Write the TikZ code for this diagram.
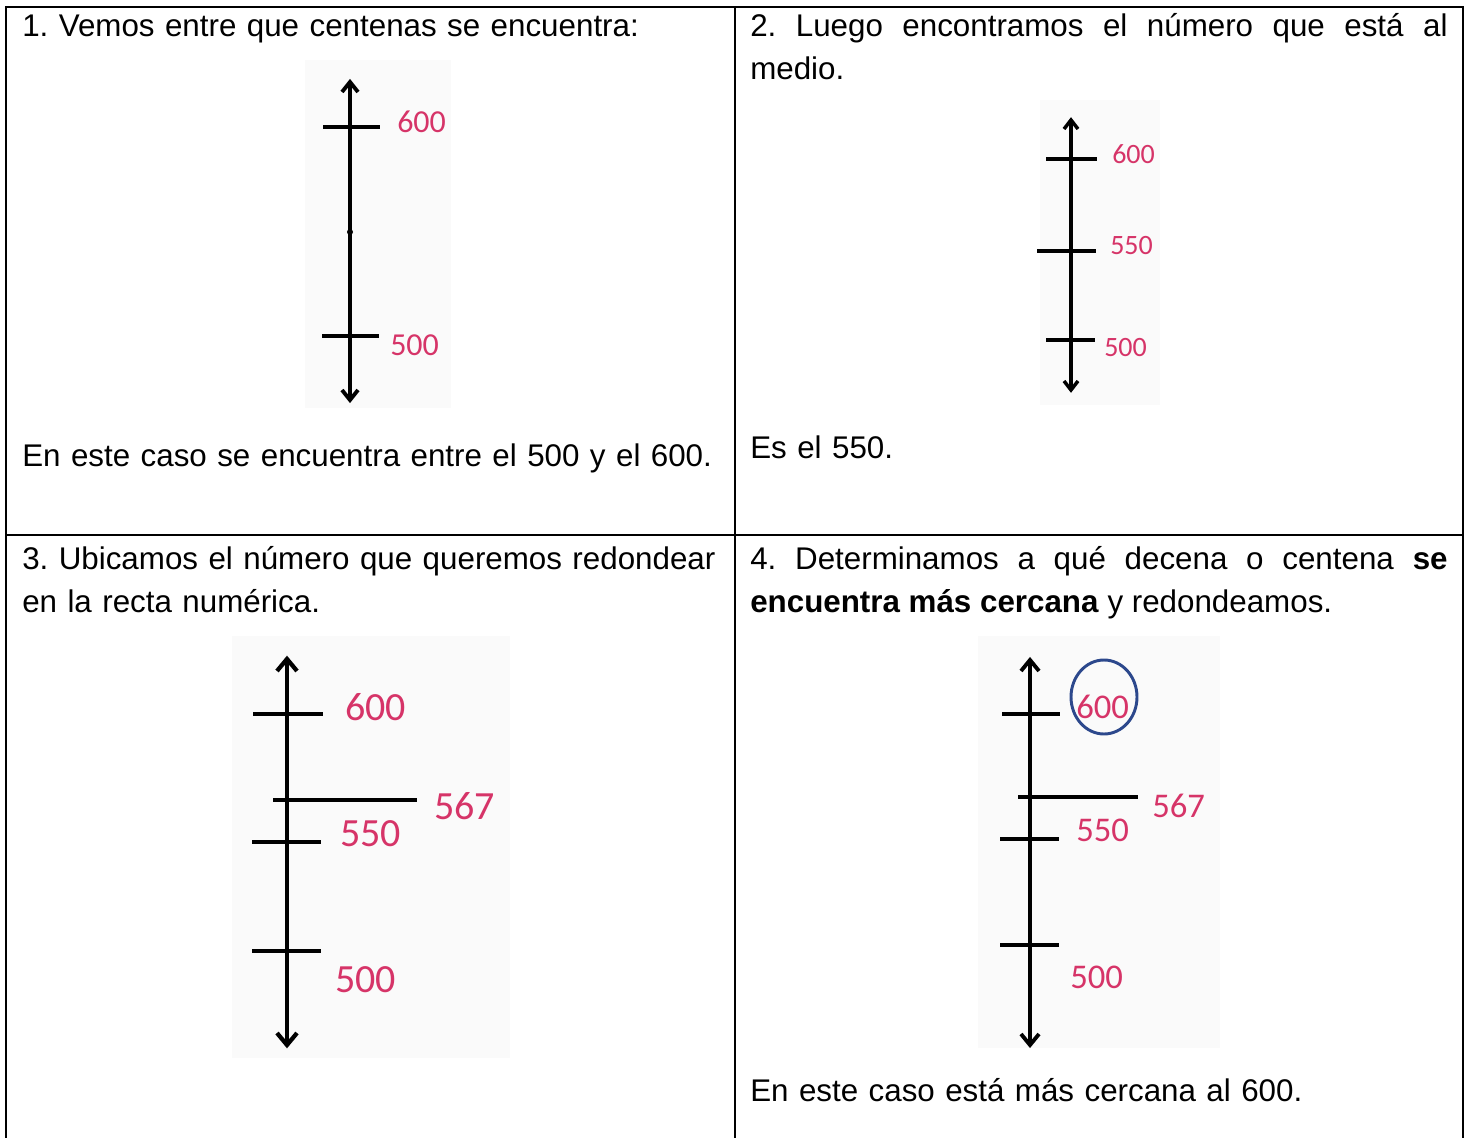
\documentclass[tikz,border=0pt]{standalone}
\usepackage{fontspec}
\setmainfont{Liberation Sans}
\newfontfamily\numfont{Carlito}
\usepackage{xcolor}
\definecolor{numpink}{RGB}{214,52,104}
\definecolor{ringblue}{RGB}{44,72,140}
\definecolor{imgbg}{RGB}{250,250,250}
\frenchspacing
\hyphenpenalty=10000

\tikzset{
  cell/.style={anchor=base west, inner sep=0pt, text width=523pt,
    font=\fontsize{23.5}{32.25}\selectfont},
  leftcell/.style={cell, text width=540pt, align=left},
  numlabel/.style={anchor=west, inner sep=0pt, text=numpink},
  grid/.style={line width=1.8pt}
}

\begin{document}
\begin{tikzpicture}[x=0.75pt,y=0.75pt,yscale=-1,xscale=1]
\useasboundingbox (0,0) rectangle (1468,1138);

%Table frame
\draw [grid]  (6,1138) -- (6,7) -- (1463,7) -- (1463,1138) ;
\draw [grid]  (735,7) -- (735,1138) ;
\draw [grid]  (6,535) -- (1463,535) ;

%Picture backgrounds
\fill [imgbg] (305,60) rectangle (451,408) ;
\fill [imgbg] (1040,100) rectangle (1160,405) ;
\fill [imgbg] (232,636) rectangle (510,1058) ;
\fill [imgbg] (978,636) rectangle (1220,1048) ;

%Straight Lines: number line 1
\draw [line width=2.9pt]  (350,82) -- (350,400) ;
\draw [shift={(350,82)}, rotate=90] [line width=2.9pt]  (10,-8) -- (0,0) -- (10,8) ;
\draw [shift={(350,400)}, rotate=270] [line width=2.9pt]  (10,-8) -- (0,0) -- (10,8) ;
\draw [line width=2.7pt]  (323,127) -- (380,127) ;
\draw [line width=2.7pt]  (322,336) -- (379,336) ;
\fill (350,232) circle [radius=3] ;

%Straight Lines: number line 2
\draw [line width=2.6pt]  (1071,120) -- (1071,390) ;
\draw [shift={(1071,120)}, rotate=90] [line width=2.6pt]  (9,-7) -- (0,0) -- (9,7) ;
\draw [shift={(1071,390)}, rotate=270] [line width=2.6pt]  (9,-7) -- (0,0) -- (9,7) ;
\draw [line width=2.6pt]  (1046,159) -- (1097,159) ;
\draw [line width=2.6pt]  (1037,251) -- (1096,251) ;
\draw [line width=2.6pt]  (1046,340) -- (1095,340) ;

%Straight Lines: number line 3
\draw [line width=3.2pt]  (287,659) -- (287,1045) ;
\draw [shift={(287,659)}, rotate=90] [line width=3.2pt]  (12,-10) -- (0,0) -- (12,10) ;
\draw [shift={(287,1045)}, rotate=270] [line width=3.2pt]  (12,-10) -- (0,0) -- (12,10) ;
\draw [line width=3pt]  (253,714) -- (323,714) ;
\draw [line width=3pt]  (273,800) -- (417,800) ;
\draw [line width=3pt]  (252,842) -- (321,842) ;
\draw [line width=3pt]  (252,951) -- (321,951) ;

%Straight Lines: number line 4
\draw [line width=2.9pt]  (1030,660) -- (1030,1045) ;
\draw [shift={(1030,660)}, rotate=90] [line width=2.9pt]  (11,-9) -- (0,0) -- (11,9) ;
\draw [shift={(1030,1045)}, rotate=270] [line width=2.9pt]  (11,-9) -- (0,0) -- (11,9) ;
\draw [line width=2.8pt]  (1002,714) -- (1060,714) ;
\draw [line width=2.8pt]  (1018,797) -- (1138,797) ;
\draw [line width=2.8pt]  (1000,839) -- (1059,839) ;
\draw [line width=2.8pt]  (1000,945) -- (1059,945) ;
%Ellipse
\draw [color=ringblue, line width=2.2pt]  (1104,697) ellipse [x radius=33, y radius=37] ;

% Text Node
\node [leftcell] (step1) at (22,37) {1. Vemos entre que centenas se encuentra:};
% Text Node
\node [cell, align=justify] (step2) at (750,37) {2. Luego encontramos el número que está al\linebreak medio.};
% Text Node
\node [leftcell] (result1) at (22,466) {En este caso se encuentra entre el 500 y el 600.};
% Text Node
\node [leftcell] (result2) at (750,458) {Es el 550.};
% Text Node
\node [leftcell] (step3) at (22,569) {3. Ubicamos el número que queremos redondear\\en la recta numérica.};
% Text Node
\node [cell, align=justify] (step4) at (750,569) {4. Determinamos a qué decena o centena \textbf{se}\linebreak \textbf{encuentra más cercana} y redondeamos.};
% Text Node
\node [leftcell] (result4) at (750,1101) {En este caso está más cercana al 600.};

% Text Node
\node [numlabel, font=\numfont\fontsize{24}{24}\selectfont] (a600) at (397,122) {600};
\node [numlabel, font=\numfont\fontsize{24}{24}\selectfont] (a500) at (390,345) {500};
% Text Node
\node [numlabel, font=\numfont\fontsize{21}{21}\selectfont] (b600) at (1112,154) {600};
\node [numlabel, font=\numfont\fontsize{21}{21}\selectfont] (b550) at (1110,246) {550};
\node [numlabel, font=\numfont\fontsize{21}{21}\selectfont] (b500) at (1104,348) {500};
% Text Node
\node [numlabel, font=\numfont\fontsize{30}{30}\selectfont] (c600) at (345,707) {600};
\node [numlabel, font=\numfont\fontsize{30}{30}\selectfont] (c567) at (434,806) {567};
\node [numlabel, font=\numfont\fontsize{30}{30}\selectfont] (c550) at (340,834) {550};
\node [numlabel, font=\numfont\fontsize{30}{30}\selectfont] (c500) at (335,980) {500};
% Text Node
\node [numlabel, font=\numfont\fontsize{26}{26}\selectfont] (d600) at (1076,707) {600};
\node [numlabel, font=\numfont\fontsize{26}{26}\selectfont] (d567) at (1152,806) {567};
\node [numlabel, font=\numfont\fontsize{26}{26}\selectfont] (d550) at (1076,830) {550};
\node [numlabel, font=\numfont\fontsize{26}{26}\selectfont] (d500) at (1070,977) {500};

\end{tikzpicture}
\end{document}
